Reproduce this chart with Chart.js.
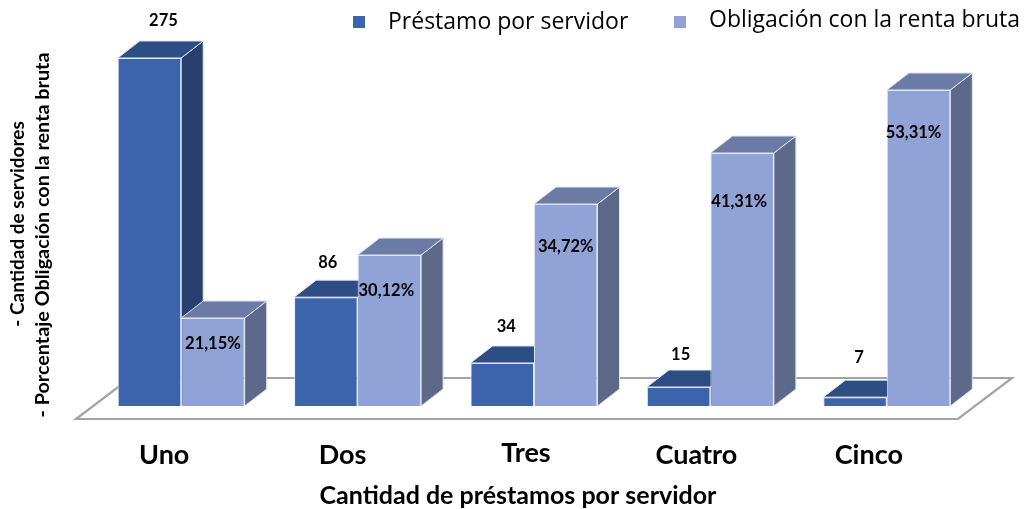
<!DOCTYPE html>
<html><head><meta charset="utf-8">
<style>html,body{margin:0;padding:0;background:#fff}canvas{display:block}</style>
<script src="https://cdn.jsdelivr.net/npm/chart.js@4"></script>
</head><body>
<canvas id="c" width="1027" height="509"></canvas>
<script>
const categories = ['Uno','Dos','Tres','Cuatro','Cinco'];
const prestamoName = 'Préstamo por servidor';
const obligacionName = 'Obligación con la renta bruta';
const prestamoValues = [275,86,34,15,7];
// Bar heights as drawn in the picture, which are not proportional to their printed labels
const obligacionDrawn = [14.84,25.46,34.06,42.66,53.29];
const obligacionLabels = ['21,15%','30,12%','34,72%','41,31%','53,31%'];
const yTitleLines = ['- Cantidad de servidores','- Porcentaje Obligación con la renta bruta'];
const xTitle = 'Cantidad de préstamos por servidor';

const FONT_B = '"Lato","Open Sans",sans-serif';
const DEPTH = {dx:22, dy:-17};
const faces = [
  {top:'#2d4d85', side:'#27406f'},
  {top:'#6c7ba5', side:'#5c6988'}
];
const labelNudge = [
  [[14,-37],[2,-34],[4,-36],[2,-32],[4,-39]],
  [[0,26],[-3,36],[0,43],[-3,49],[-5,43]]
];
const tickNudge = [[-17,0],[-15,0],[-8,-2],[-14,0],[-18,0]];

function poly(ctx, pts, fill, stroke){
  ctx.beginPath();
  pts.forEach((p,i)=> i?ctx.lineTo(p[0],p[1]):ctx.moveTo(p[0],p[1]));
  ctx.closePath();
  ctx.fillStyle = fill; ctx.fill();
  if(stroke){ctx.strokeStyle = stroke; ctx.lineWidth = 1; ctx.stroke();}
}

const scene = {
  id:'scene',
  beforeDraw(chart){
    const items = chart.scales.x.getLabelItems();
    if(!items._nudged){
      items.forEach((it,i)=>{
        const t = it.options.translation;
        it.options.translation = [t[0]+tickNudge[i][0], t[1]+tickNudge[i][1]];
      });
      items._nudged = true;
    }
  },
  beforeDatasetsDraw(chart){
    const {ctx, chartArea:a} = chart;
    const base = a.bottom;
    ctx.save();
    ctx.beginPath();
    ctx.moveTo(a.left-17, base+13);
    ctx.lineTo(a.right-17, base+13);
    ctx.lineTo(a.right+37, base-28);
    ctx.lineTo(a.left+37, base-28);
    ctx.closePath();
    ctx.fillStyle='#fff'; ctx.fill();
    ctx.strokeStyle='#a3a3a3'; ctx.lineWidth=2.2; ctx.stroke();
    ctx.restore();
    // Painter's order: first series (with its 3D faces) behind the second
    [0,1].forEach(idx=>{
      const meta = chart.getDatasetMeta(idx), f = faces[idx];
      ctx.save();
      meta.data.forEach(b=>{
        const l=b.x-b.width/2, r=b.x+b.width/2, t=b.y, bt=b.base;
        poly(ctx,[[r,t],[r+DEPTH.dx,t+DEPTH.dy],[r+DEPTH.dx,bt+DEPTH.dy],[r,bt]],f.side,'#dfe6f2');
        poly(ctx,[[l,t],[r,t],[r+DEPTH.dx,t+DEPTH.dy],[l+DEPTH.dx,t+DEPTH.dy]],f.top,'#dfe6f2');
      });
      ctx.restore();
      meta.controller.draw();
    });
    return false;
  },
  afterDraw(chart){
    const ctx = chart.ctx;
    ctx.save();
    ctx.fillStyle='#000'; ctx.textAlign='center'; ctx.textBaseline='middle';
    ctx.font='bold 16.5px '+FONT_B;
    chart.getDatasetMeta(0).data.forEach((b,i)=>{
      ctx.fillText(String(prestamoValues[i]), b.x+labelNudge[0][i][0], b.y+labelNudge[0][i][1]);
    });
    chart.getDatasetMeta(1).data.forEach((b,i)=>{
      ctx.fillText(obligacionLabels[i], b.x+labelNudge[1][i][0], b.y+labelNudge[1][i][1]);
    });
    // x axis title
    ctx.font='bold 25px '+FONT_B;
    ctx.fillText(xTitle, 518, 496);
    // y axis title
    [[18,224,19],[43,235,19.8]].forEach((p,i)=>{
      ctx.font='bold '+p[2]+'px '+FONT_B;
      ctx.save(); ctx.translate(p[0],p[1]); ctx.rotate(-Math.PI/2);
      ctx.fillText(yTitleLines[i],0,0); ctx.restore();
    });
    // legend
    ctx.textAlign='left';
    ctx.font='23px "Open Sans",sans-serif';
    ctx.fillStyle='#3b64ad'; ctx.fillRect(353,16,12,12);
    ctx.fillStyle='#000'; ctx.fillText(prestamoName,388,22);
    ctx.fillStyle='#91a3d6'; ctx.fillRect(674,16,12,12);
    ctx.fillStyle='#000'; ctx.fillText(obligacionName,709,20);
    ctx.restore();
  }
};

new Chart(document.getElementById('c'),{
  type:'bar',
  data:{labels:categories,datasets:[
    {label:prestamoName,data:prestamoValues,yAxisID:'y',backgroundColor:'#3b64ad',borderColor:'#dfe6f2',borderWidth:1,barPercentage:1,categoryPercentage:0.72},
    {label:obligacionName,data:obligacionDrawn,yAxisID:'y1',backgroundColor:'#91a3d6',borderColor:'#dfe6f2',borderWidth:1,barPercentage:1,categoryPercentage:0.72}
  ]},
  options:{
    responsive:false,animation:false,
    layout:{padding:{left:93,right:52,top:40,bottom:0}},
    plugins:{legend:{display:false},tooltip:{enabled:false}},
    scales:{
      x:{
        grid:{display:false},border:{display:false},
        ticks:{color:'#000',font:{family:FONT_B,weight:'bold',size:27},padding:25,maxRotation:0},
        afterFit(s){s.height=103;}
      },
      y:{display:false,min:0,max:289.2},
      y1:{display:false,min:0,max:61.72}
    }
  },
  plugins:[scene]
});
</script>
</body></html>
